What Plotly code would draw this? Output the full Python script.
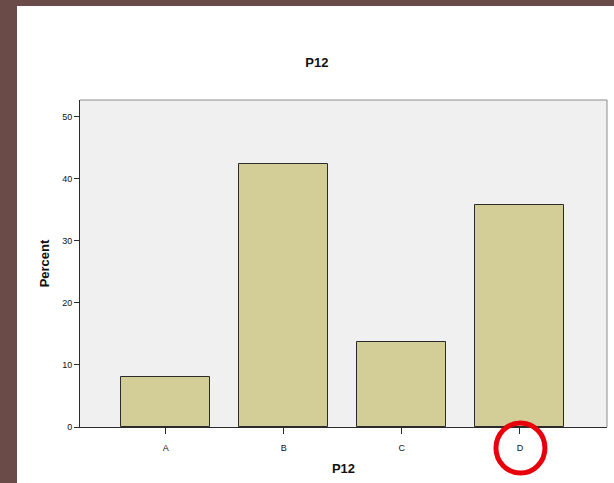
import plotly.graph_objects as go

# P12 answers, percent of respondents
categories = ["A", "B", "C", "D"]
percent = [8.1, 42.4, 13.7, 35.8]
y_ticks = [0, 10, 20, 30, 40, 50]
highlight = "D"

x_range = [-0.725, 3.737]
brown = "#6b4b48"

fig = go.Figure()
fig.add_trace(go.Bar(x=categories, y=percent, width=0.754,
                     marker=dict(color="#d3ce97", line=dict(color="#2b2b2b", width=1)),
                     hoverinfo="x+y"))

# brown page edge on the left and top
fig.add_shape(type="rect", xref="paper", yref="paper", x0=-0.2, x1=-0.1195, y0=-0.3, y1=1.4,
              fillcolor=brown, line_width=0)
fig.add_shape(type="rect", xref="paper", yref="paper", x0=-0.2, x1=1.1, y0=1.2875, y1=1.4,
              fillcolor=brown, line_width=0)
# grey frame on top and right side of the plot area
fig.add_shape(type="line", xref="paper", yref="paper", x0=0, x1=1, y0=1, y1=1,
              line=dict(color="#8c8c8c", width=1))
fig.add_shape(type="line", xref="paper", yref="paper", x0=1, x1=1, y0=0, y1=1,
              line=dict(color="#8c8c8c", width=1))
# red circle round the D label (paper-anchored so it is not clipped)
d_pos = (categories.index(highlight) - x_range[0]) / (x_range[1] - x_range[0])
fig.add_shape(type="circle", xref="paper", yref="paper", xsizemode="pixel", ysizemode="pixel",
              xanchor=d_pos, yanchor=0, x0=-24, x1=25, y0=-46, y1=4,
              line=dict(color="#e8000b", width=5))

fig.update_layout(
    width=614, height=483,
    margin=dict(l=80, r=7, t=100, b=56),
    paper_bgcolor="white", plot_bgcolor="#f0f0f0",
    font=dict(family="Liberation Sans, Arial", color="#111"),
    showlegend=False, bargap=0,
    title=dict(text="<b>P12</b>", x=0.516, xref="container", y=1 - 62 / 483, yref="container",
               xanchor="center", yanchor="middle", font=dict(size=13, color="#111")),
)
fig.update_xaxes(range=x_range, showline=True, linecolor="#2b2b2b", linewidth=1,
                 ticks="outside", ticklen=6, tickcolor="#2b2b2b", tickfont=dict(size=9, color="#111"),
                 ticklabelstandoff=6, showgrid=False,
                 title=dict(text="<b>P12</b>", font=dict(size=13, color="#111"), standoff=12))
fig.update_yaxes(range=[0, 52.7], tickvals=y_ticks, showline=True, linecolor="#2b2b2b", linewidth=1,
                 ticks="outside", ticklen=5, tickcolor="#2b2b2b", tickfont=dict(size=9, color="#111"),
                 showgrid=False, zeroline=False,
                 title=dict(text="<b>Percent</b>", font=dict(size=13, color="#111"), standoff=9))

fig.write_html("out.html", config={"displayModeBar": False},
               post_script="document.body.style.margin='0';")
